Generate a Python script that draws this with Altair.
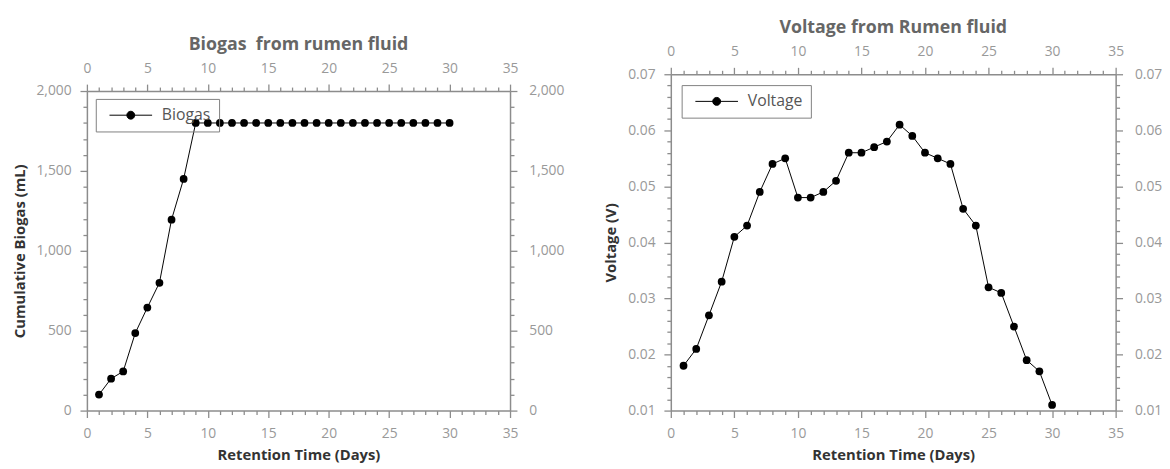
import altair as alt
import pandas as pd

# ---- data ----
days = [1, 2, 3, 4, 5, 6, 7, 8, 9, 10, 11, 12, 13, 14, 15,
        16, 17, 18, 19, 20, 21, 22, 23, 24, 25, 26, 27, 28, 29, 30]
biogas = [100, 200, 245, 485, 645, 800, 1195, 1450, 1800, 1800,
          1800, 1800, 1800, 1800, 1800, 1800, 1800, 1800, 1800, 1800,
          1800, 1800, 1800, 1800, 1800, 1800, 1800, 1800, 1800, 1800]
voltage = [0.018, 0.021, 0.027, 0.033, 0.041, 0.043, 0.049, 0.054, 0.055, 0.048,
           0.048, 0.049, 0.051, 0.056, 0.056, 0.057, 0.058, 0.061, 0.059, 0.056,
           0.055, 0.054, 0.046, 0.043, 0.032, 0.031, 0.025, 0.019, 0.017, 0.011]

x_ticks = list(range(0, 36))
biogas_ticks = list(range(0, 2001, 100))
volt_ticks = [round(0.01 + 0.002 * i, 3) for i in range(31)]

FONT = "Open Sans"
LABEL_C = "#999999"
AXIS_C = "#8c8c8c"
TITLE_C = "#333333"


def make_axis(orient, values, minor_test, label_expr, pad, title=None, title_pad=None,
              offset=None):
    kw = dict(
        orient=orient, values=values, grid=False,
        labelExpr=label_expr, labelOverlap=False, labelFlush=False,
        labelColor=LABEL_C, labelFont=FONT, labelFontSize=14, labelPadding=pad,
        domainColor=AXIS_C, domainWidth=1.5, tickColor=AXIS_C, tickWidth=1.3,
        tickSize={"condition": {"test": minor_test, "value": 4}, "value": 7},
        titleFont=FONT, titleFontSize=15, titleFontWeight="bold", titleColor=TITLE_C,
    )
    if title is not None:
        kw["title"] = title
        if title_pad is not None:
            kw["titlePadding"] = title_pad
    else:
        kw["title"] = None
    if offset is not None:
        kw["offset"] = offset
    return alt.Axis(**kw)


X_MINOR = "datum.value % 5 !== 0"
X_LABEL = "datum.value % 5 === 0 ? datum.label : ''"


def panel(df, field, name, title, ytitle, ydomain, yvals, y_minor, y_label,
          width, height, top_gap, ytitle_pad, legend_xy):
    xscale = alt.Scale(domain=[0, 35], nice=False, zero=False)
    yscale = alt.Scale(domain=ydomain, nice=False, zero=False,
                       range=[height, top_gap])
    line = alt.Chart(df).mark_line(color="black", strokeWidth=1).encode(
        x=alt.X("day:Q", scale=xscale,
                axis=make_axis("bottom", x_ticks, X_MINOR, X_LABEL, 9,
                               "Retention Time (Days)", 8)),
        y=alt.Y(f"{field}:Q", scale=yscale,
                axis=make_axis("left", yvals, y_minor, y_label, 9, ytitle, ytitle_pad)),
    )
    # legend symbol: a short line with a dot in the middle (units of sqrt(size)/2)
    sym = "M-2.7,0H2.7M-0.5,0A0.5,0.5,0,1,1,0.5,0A0.5,0.5,0,1,1,-0.5,0Z"
    pts = alt.Chart(df).mark_point(filled=True, size=62, opacity=1).encode(
        x=alt.X("day:Q", scale=xscale,
                axis=make_axis("top", x_ticks, X_MINOR, X_LABEL, 9,
                               offset=-top_gap if top_gap else None)),
        y=alt.Y(f"{field}:Q", scale=yscale,
                axis=make_axis("right", yvals, y_minor, y_label, 12)),
        color=alt.Color("series:N", scale=alt.Scale(domain=[name], range=["black"]),
                        legend=alt.Legend(
                            title=None, orient="none",
                            legendX=legend_xy[0], legendY=legend_xy[1],
                            symbolType=sym, symbolSize=256,
                            symbolOffset=19, labelOffset=23,
                            labelFont=FONT, labelFontSize=16, labelColor="#555555",
                            padding=8, strokeColor="#808080",
                            symbolStrokeColor="black", symbolFillColor="black",
                            symbolStrokeWidth=1)),
    )
    return alt.layer(line, pts).resolve_axis(x="independent", y="independent").properties(
        width=width, height=height,
        title=alt.TitleParams(title, font=FONT, fontSize=18, fontWeight="bold",
                              color="#666666", offset=8),
    )


df_b = pd.DataFrame({"day": days, "biogas": biogas, "series": ["Biogas"] * len(days)})
df_v = pd.DataFrame({"day": days, "voltage": voltage, "series": ["Voltage"] * len(days)})

left = panel(df_b, "biogas", "Biogas", "Biogas \u00a0from rumen fluid",
             "Cumulative Biogas (mL)",
             [0, 2000], biogas_ticks, "datum.value % 500 !== 0",
             "datum.value % 500 === 0 ? format(datum.value, ',d') : ''",
             429, 341, 17, 9, (9, 25))

V_MAJOR = "abs(datum.value*100 - round(datum.value*100)) < 0.000001"
right = panel(df_v, "voltage", "Voltage", "Voltage from Rumen fluid", "Voltage (V)",
              [0.01, 0.07], volt_ticks, f"!({V_MAJOR})",
              f"{V_MAJOR} ? format(datum.value, '.2f') : ''",
              451, 341, 0, 9, (11, 11))

chart = alt.hconcat(left, right, spacing=40).resolve_scale(
    color="independent").properties(
    padding={"left": 4, "top": 8, "right": 0, "bottom": 0}
).configure(font=FONT).configure_view(stroke=None)

chart.save("out.html", embed_options={"renderer": "svg", "actions": False})
